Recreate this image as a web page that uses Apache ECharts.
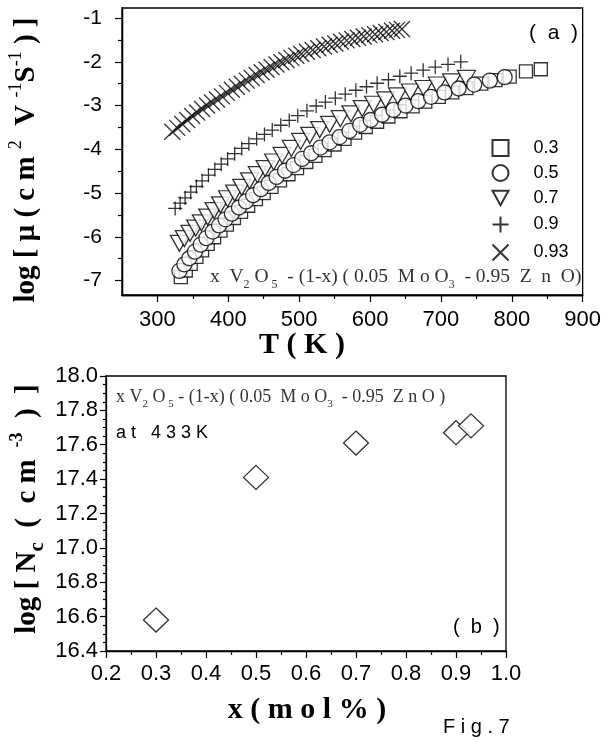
<!DOCTYPE html>
<html>
<head>
<meta charset="utf-8">
<script src="https://cdn.jsdelivr.net/npm/echarts@6/dist/echarts.min.js"></script>
<style>html,body{margin:0;padding:0;background:#fff}#c{width:604px;height:740px}</style>
</head>
<body>
<div id="c"></div>
<script>
// ---- Panel (a): log mobility vs T ----
const T03 = [333,340,347,355,363,371,380,389,398,408,418,428,439,450,461,473,485,497,510,523,536,550,564,579,594,610,626,643,660,678,697,716,736,757,777,797,820,841];
const V03 = [-6.92,-6.77,-6.62,-6.46,-6.31,-6.16,-6.01,-5.86,-5.72,-5.57,-5.43,-5.29,-5.14,-5.00,-4.86,-4.71,-4.57,-4.43,-4.29,-4.15,-4.02,-3.89,-3.76,-3.62,-3.49,-3.37,-3.25,-3.13,-3.02,-2.91,-2.80,-2.70,-2.60,-2.50,-2.42,-2.34,-2.22,-2.17];
const T05 = [331,338,345,353,361,369,378,387,396,405,415,425,435,446,457,468,480,492,504,517,530,543,557,571,586,601,617,633,650,668,686,705,725,747,769,790];
const V05 = [-6.78,-6.63,-6.49,-6.34,-6.18,-6.03,-5.88,-5.74,-5.60,-5.47,-5.33,-5.19,-5.05,-4.91,-4.77,-4.63,-4.49,-4.36,-4.22,-4.09,-3.96,-3.84,-3.72,-3.58,-3.44,-3.33,-3.21,-3.10,-3.00,-2.90,-2.80,-2.70,-2.61,-2.52,-2.43,-2.35];
const T07 = [331,338,346,354,362,371,380,389,399,409,419,430,441,452,464,476,489,502,515,529,543,558,573,589,605,622,639,657,676,695,715,736];
const V07 = [-6.15,-6.04,-5.92,-5.80,-5.68,-5.55,-5.40,-5.27,-5.13,-5.00,-4.87,-4.72,-4.58,-4.44,-4.29,-4.14,-3.98,-3.82,-3.68,-3.55,-3.43,-3.30,-3.19,-3.07,-2.97,-2.87,-2.78,-2.69,-2.61,-2.53,-2.46,-2.38];
const T09 = [325,332,339,347,355,363,372,381,390,399,409,419,429,440,451,462,474,486,498,511,524,537,551,565,580,595,610,626,642,658,675,692,710,728];
const V09 = [-5.35,-5.23,-5.11,-4.98,-4.85,-4.72,-4.59,-4.46,-4.34,-4.22,-4.10,-3.98,-3.87,-3.76,-3.66,-3.56,-3.45,-3.34,-3.23,-3.12,-3.01,-2.92,-2.83,-2.74,-2.65,-2.57,-2.49,-2.41,-2.33,-2.26,-2.19,-2.12,-2.06,-2.00];
const T093 = [321,328,335,342,349,356,363,370,377,384,391,398,405,412,419,426,433,440,447,454,461,468,475,482,489,496,503,511,519,527,535,543,551,559,567,575,583,591,599,607,615,623,631,638,645];
const V093 = [-3.60,-3.51,-3.42,-3.33,-3.24,-3.16,-3.08,-3.00,-2.93,-2.86,-2.79,-2.71,-2.64,-2.57,-2.50,-2.43,-2.37,-2.30,-2.24,-2.18,-2.12,-2.06,-2.01,-1.96,-1.91,-1.86,-1.82,-1.77,-1.73,-1.69,-1.65,-1.61,-1.58,-1.54,-1.51,-1.48,-1.45,-1.42,-1.39,-1.37,-1.34,-1.32,-1.29,-1.27,-1.25];
const legendNames = ['0.3','0.5','0.7','0.9','0.93'];
const xTicksA = [300,400,500,600,700,800,900];
const xMinorA = [350,450,550,650,750,850];
const yTicksA = [-7,-6,-5,-4,-3,-2,-1];
const yMinorA = [-6.5,-5.5,-4.5,-3.5,-2.5,-1.5];

// ---- Panel (b): log Nc vs x at 433 K ----
const Xmol = [0.3,0.5,0.7,0.9,0.93];
const LogNc = [16.58,17.41,17.61,17.67,17.71];

const zip = (a,b) => a.map((v,i) => [v,b[i]]);
const SANS = 'Liberation Sans, Arial, sans-serif';
const SERIF = 'Liberation Serif, Times New Roman, serif';
const BLK = '#000';
const DOWN_TRI = 'path://M0,0L20,0L10,18Z';

const chart = echarts.init(document.getElementById('c'), null, {renderer:'canvas'});

const markStyle = {color:'#fff', borderColor:BLK, borderWidth:1.3};
const lineStyle = {color:'none', borderColor:BLK, borderWidth:1.3};

function mainAxisX(grid, min, max, extra) {
  return Object.assign({
    type:'value', gridIndex:grid, min:min, max:max, position:'bottom',
    axisLine:{show:true, onZero:false, lineStyle:{color:BLK, width:1.3}},
    splitLine:{show:false},
    axisTick:{show:true, inside:false, length:7, lineStyle:{color:BLK, width:1.2}},
    axisLabel:{color:BLK, fontFamily:SANS, fontSize:22}
  }, extra);
}

const option = {
  animation:false,
  backgroundColor:'#fff',
  grid:[
    {left:122, top:8, width:463, height:287, show:true, borderColor:BLK, borderWidth:1.3, backgroundColor:'transparent'},
    {left:106, top:376, width:400, height:275, show:true, borderColor:BLK, borderWidth:1.3, backgroundColor:'transparent'}
  ],
  xAxis:[
    mainAxisX(0, 250, 900, {
      axisTick:{show:true, length:7, customValues:xTicksA, lineStyle:{color:BLK, width:1.2}},
      axisLabel:{color:BLK, fontFamily:SANS, fontSize:22, margin:14, customValues:xTicksA}
    }),
    mainAxisX(0, 250, 900, {
      axisTick:{show:true, length:4, customValues:xMinorA, lineStyle:{color:BLK, width:1.2}},
      axisLabel:{show:false}
    }),
    mainAxisX(1, 0.2, 1.0, {
      interval:0.1,
      minorTick:{show:true, splitNumber:2, length:4, lineStyle:{color:BLK, width:1.2}},
      axisLabel:{color:BLK, fontFamily:SANS, fontSize:22, margin:12, formatter:v => v.toFixed(1)}
    })
  ],
  yAxis:[
    {type:'value', gridIndex:0, min:-7.33, max:-0.77, position:'left',
      axisLine:{show:true, onZero:false, lineStyle:{color:BLK, width:1.3}},
      splitLine:{show:false},
      axisTick:{show:true, length:7, customValues:yTicksA, lineStyle:{color:BLK, width:1.2}},
      axisLabel:{color:BLK, fontFamily:SANS, fontSize:21, margin:20, customValues:yTicksA}},
    {type:'value', gridIndex:0, min:-7.33, max:-0.77, position:'left',
      axisLine:{show:true, onZero:false, lineStyle:{color:BLK, width:1.3}},
      splitLine:{show:false},
      axisTick:{show:true, length:4, customValues:yMinorA, lineStyle:{color:BLK, width:1.2}},
      axisLabel:{show:false}},
    {type:'value', gridIndex:1, min:16.4, max:18.0, interval:0.2, position:'left',
      axisLine:{show:true, onZero:false, lineStyle:{color:BLK, width:1.3}},
      splitLine:{show:false},
      axisTick:{show:true, length:6, lineStyle:{color:BLK, width:1.2}},
      minorTick:{show:true, splitNumber:4, length:3, lineStyle:{color:BLK, width:1.2}},
      axisLabel:{color:BLK, fontFamily:SANS, fontSize:22, margin:8, formatter:v => v.toFixed(1)}}
  ],
  legend:{
    data:legendNames.map(n => n === '0.7' ? {name:n, icon:DOWN_TRI} : n),
    orient:'vertical', left:490, top:139, padding:0,
    itemWidth:16, itemHeight:16, itemGap:7, selectedMode:false,
    formatter:n => '    ' + n,
    textStyle:{color:BLK, fontFamily:SANS, fontSize:18}
  },
  series:[
    {name:'0.3', type:'scatter', xAxisIndex:0, yAxisIndex:0, symbol:'rect', symbolSize:13,
      itemStyle:markStyle, data:zip(T03,V03)},
    {name:'0.7', type:'scatter', xAxisIndex:0, yAxisIndex:0, symbol:DOWN_TRI, symbolSize:[18,16],
      itemStyle:markStyle, data:zip(T07,V07)},
    {name:'0.5', type:'scatter', xAxisIndex:0, yAxisIndex:0, symbol:'circle', symbolSize:15,
      itemStyle:markStyle, data:zip(T05,V05)},
    {name:'0.9', type:'scatter', xAxisIndex:0, yAxisIndex:0, symbol:'path://M0,5L10,5M5,0L5,10', symbolSize:14,
      itemStyle:lineStyle, data:zip(T09,V09)},
    {name:'0.93', type:'scatter', xAxisIndex:0, yAxisIndex:0, symbol:'path://M0,0L10,10M10,0L0,10', symbolSize:16,
      itemStyle:lineStyle, data:zip(T093,V093)},
    {name:'Nc', type:'scatter', xAxisIndex:2, yAxisIndex:2, symbol:'diamond', symbolSize:[25,24],
      itemStyle:markStyle, data:zip(Xmol,LogNc)}
  ],
  graphic:[
    {type:'text', x:27, y:160, rotation:Math.PI/2, silent:true,
      style:{align:'center', verticalAlign:'middle',
        text:'{m|log [ μ ( c m }{s|2}{m|  V }{s|-1}{m|S}{s|-1}{m| ) ]}',
        rich:{
          m:{fontFamily:SERIF, fontWeight:'bold', fontSize:29, fill:BLK, lineHeight:40},
          s:{fontFamily:SERIF, fontWeight:'normal', fontSize:18, fill:BLK, verticalAlign:'top'}
        }}},
    {type:'text', x:28, y:509, rotation:Math.PI/2, silent:true,
      style:{align:'center', verticalAlign:'middle',
        text:'{m|log [ N}{b|c}{m|  (  c m }{s| -3}{m|  )  ]}',
        rich:{
          m:{fontFamily:SERIF, fontWeight:'bold', fontSize:29, fill:BLK, lineHeight:40},
          b:{fontFamily:SERIF, fontWeight:'bold', fontSize:21, fill:BLK, verticalAlign:'bottom'},
          s:{fontFamily:SERIF, fontWeight:'bold', fontSize:18, fill:BLK, verticalAlign:'top'}
        }}},
    {type:'text', x:302, y:345, silent:true,
      style:{align:'center', verticalAlign:'middle', text:'T ( K )',
        font:'bold 30px ' + SERIF, fill:BLK}},
    {type:'text', x:307, y:710, silent:true,
      style:{align:'center', verticalAlign:'middle', text:'x ( m o l % )',
        font:'bold 30px ' + SERIF, fill:BLK}},
    {type:'text', x:210, y:277, silent:true,
      style:{align:'left', verticalAlign:'middle',
        text:'{t|x  V}{d|2}{t| O}{d| 5}{t|  - (1-x) ( 0.05  M o O}{d|3}{t|  - 0.95  Z  n  O)}',
        rich:{
          t:{fontFamily:SERIF, fontSize:19.5, fill:'#333', lineHeight:28},
          d:{fontFamily:SERIF, fontSize:12, fill:'#333', verticalAlign:'bottom'}
        }}},
    {type:'text', x:116, y:397, silent:true,
      style:{align:'left', verticalAlign:'middle',
        text:'{t|x V}{d|2}{t| O}{d| 5}{t| - (1-x) ( 0.05  M o O}{d|3}{t|  - 0.95  Z n O )}',
        rich:{
          t:{fontFamily:SERIF, fontSize:18, fill:'#333', lineHeight:26},
          d:{fontFamily:SERIF, fontSize:11, fill:'#333', verticalAlign:'bottom'}
        }}},
    {type:'text', x:116, y:433, silent:true,
      style:{align:'left', verticalAlign:'middle', text:'a t   4 3 3 K', font:'18px ' + SANS, fill:BLK}},
    {type:'text', x:529, y:33, silent:true,
      style:{align:'left', verticalAlign:'middle', text:'(  a  )', font:'21px ' + SANS, fill:BLK}},
    {type:'text', x:453, y:627, silent:true,
      style:{align:'left', verticalAlign:'middle', text:'(  b  )', font:'20px ' + SANS, fill:BLK}},
    {type:'text', x:443, y:727, silent:true,
      style:{align:'left', verticalAlign:'middle', text:'F i g . 7', font:'20px ' + SANS, fill:BLK}}
  ]
};
chart.setOption(option);
</script>
</body>
</html>
